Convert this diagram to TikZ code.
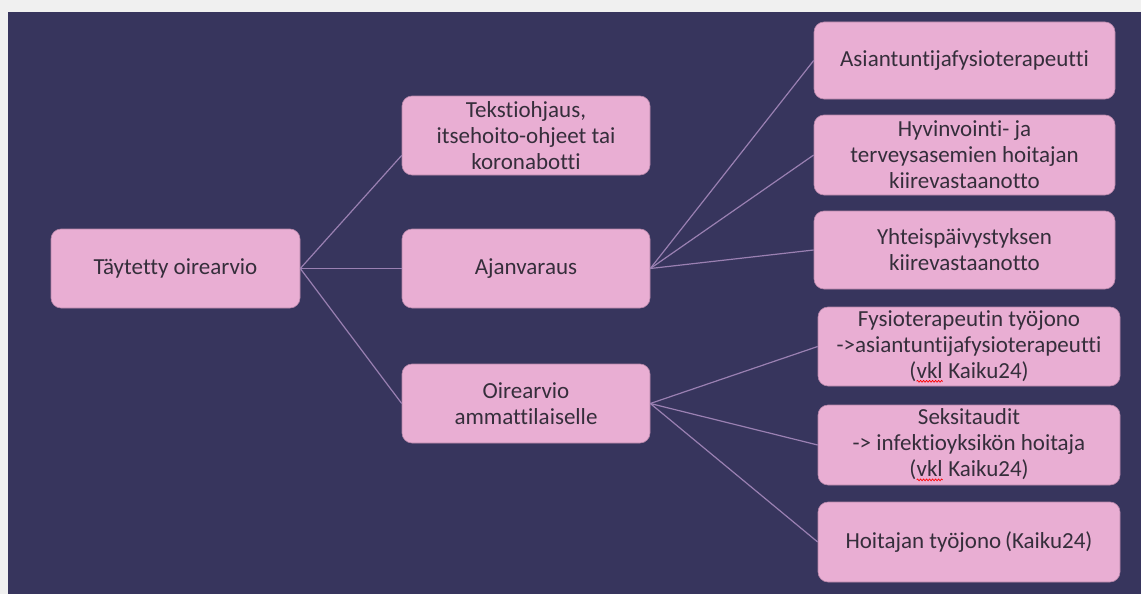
\documentclass[tikz,border=0pt]{standalone}
\usepackage{fontspec}
\setmainfont{Carlito}[Ligatures=NoCommon]
\usetikzlibrary{calc,decorations.pathmorphing}
\definecolor{bgdark}{HTML}{37355D}
\definecolor{margin}{HTML}{F0F0F0}
\definecolor{boxfill}{HTML}{E9AED3}
\definecolor{boxline}{HTML}{B585A8}
\definecolor{txt}{HTML}{352E3B}
\definecolor{link}{HTML}{9A80B2}
\newcommand{\spellerr}[1]{\tikz[baseline=(w.base),x=1pt,y=1pt]{\node[inner sep=0pt,outer sep=0pt,minimum width=0pt,minimum height=0pt,draw=none,fill=none,text width=,align=left](w){#1};\draw[red,line width=0.7pt,rounded corners=0pt,decorate,decoration={snake,amplitude=0.9pt,segment length=3pt}] ([yshift=-3pt]w.south west)--([yshift=-3pt]w.south east);}}
\begin{document}
\begin{tikzpicture}[x=1pt,y=-1pt,
  box/.style={draw=boxline,line width=0.6pt,fill=boxfill,rounded corners=10pt,
    align=center,text=txt,font=\fontsize{23}{26}\selectfont,inner sep=0pt},
  conn/.style={draw=link,line width=1.2pt}]
\useasboundingbox (0,0) rectangle (1141,594);
\fill[margin] (0,0) rectangle (1141,594);
\fill[bgdark] (8,12) rectangle (1141,594);

\node[box,minimum width=249pt,minimum height=79pt] (A) at (175.5,268.5) {Täytetty oirearvio};
\node[box,minimum width=248pt,minimum height=79pt] (B1) at (526,135.5) {Tekstiohjaus,\\itsehoito-ohjeet tai\\koronabotti};
\node[box,minimum width=248pt,minimum height=79pt] (B2) at (526,268.5) {Ajanvaraus};
\node[box,minimum width=248pt,minimum height=79pt] (B3) at (526,403.5) {Oirearvio\\ammattilaiselle};

\node[box,minimum width=301pt,minimum height=77pt] (R1) at (964.5,60.5) {Asiantuntijafysioterapeutti};
\node[box,minimum width=301pt,minimum height=80pt] (R2) at (964.5,155) {Hyvinvointi- ja\\terveysasemien hoitajan\\kiirevastaanotto};
\node[box,minimum width=301pt,minimum height=78pt] (R3) at (964.5,250) {Yhteispäivystyksen\\kiirevastaanotto};
\node[box,minimum width=302pt,minimum height=79pt] (R4) at (969,346.5) {Fysioterapeutin työjono\\->asiantuntijafysioterapeutti\\(\spellerr{vkl} Kaiku24)};
\node[box,minimum width=302pt,minimum height=80pt] (R5) at (969,445) {Seksitaudit\\-> infektioyksikön hoitaja\\(\spellerr{vkl} Kaiku24)};
\node[box,minimum width=302pt,minimum height=80pt] (R6) at (969,542) {Hoitajan työjono\,(Kaiku24)};

\draw[conn] (A.east) -- ($(B1.south west)!0.25!(B1.north west)$);
\draw[conn] (A.east) -- (B2.west);
\draw[conn] (A.east) -- (B3.west);
\draw[conn] (B2.east) -- (R1.west);
\draw[conn] (B2.east) -- (R2.west);
\draw[conn] (B2.east) -- (R3.west);
\draw[conn] (B3.east) -- (R4.west);
\draw[conn] (B3.east) -- (R5.west);
\draw[conn] (B3.east) -- (R6.west);
\end{tikzpicture}
\end{document}
